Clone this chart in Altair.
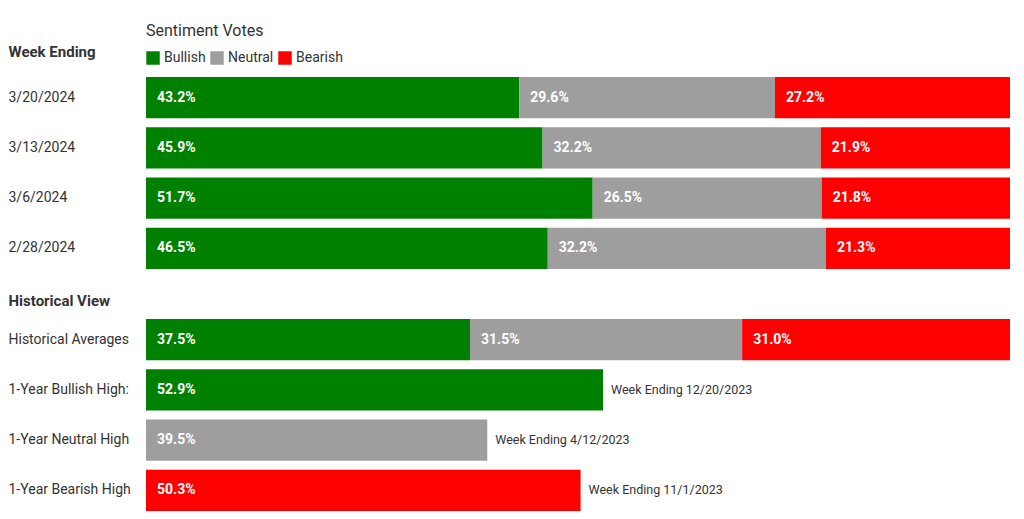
import altair as alt
import pandas as pd

categories = ["Bullish", "Neutral", "Bearish"]
colors = ["#008000", "#9E9E9E", "#FF0000"]

week_rows = ["3/20/2024", "3/13/2024", "3/6/2024", "2/28/2024"]
week_bullish = [43.2, 45.9, 51.7, 46.5]
week_neutral = [29.6, 32.2, 26.5, 32.2]
week_bearish = [27.2, 21.9, 21.8, 21.3]

hist_rows = ["Historical Averages", "1-Year Bullish High:", "1-Year Neutral High", "1-Year Bearish High"]
hist_bullish = [37.5, 52.9, None, None]
hist_neutral = [31.5, None, 39.5, None]
hist_bearish = [31.0, None, None, 50.3]
hist_notes = ["", "Week Ending 12/20/2023", "Week Ending 4/12/2023", "Week Ending 11/1/2023"]

FONT = "Roboto"
TXT = "#333333"


def long_table(rows, b, n, r):
    recs = []
    for i, row in enumerate(rows):
        for k, (cat, vals) in enumerate(zip(categories, [b, n, r])):
            v = vals[i]
            if v is None:
                continue
            recs.append({"row": row, "category": cat, "order": k, "value": v,
                         "label": f"{v:.1f}%"})
    return pd.DataFrame(recs)


week_df = long_table(week_rows, week_bullish, week_neutral, week_bearish)
hist_df = long_table(hist_rows, hist_bullish, hist_neutral, hist_bearish)
notes_df = pd.DataFrame({
    "row": hist_rows,
    "note": hist_notes,
    "total": [sum(v for v in (a, b, c) if v is not None)
              for a, b, c in zip(hist_bullish, hist_neutral, hist_bearish)],
})
notes_df = notes_df[notes_df["note"] != ""]

xscale = alt.Scale(domain=[0, 100], nice=False)


def make_panel(df, rows, title, title_y, legend):
    yenc = alt.Y(
        "row:N", sort=rows,
        scale=alt.Scale(paddingInner=0.18, paddingOuter=0),
        axis=alt.Axis(
            title=title, titleAngle=0, titleAlign="left", titleBaseline="middle",
            titleX=-138, titleY=title_y, titleFont=FONT, titleFontSize=15,
            titleFontWeight="bold", titleColor=TXT,
            labelAlign="left", labelPadding=138, labelFont=FONT, labelFontSize=14,
            labelColor=TXT, ticks=False, domain=False, grid=False,
        ),
    )
    bars = alt.Chart(df).mark_bar().encode(
        x=alt.X("value:Q", stack="zero", scale=xscale, axis=None),
        y=yenc,
        color=alt.Color("category:N", scale=alt.Scale(domain=categories, range=colors),
                        legend=legend),
        order=alt.Order("order:Q"),
    )
    labels = alt.Chart(df).transform_stack(
        stack="value", groupby=["row"], sort=[alt.SortField("order")], as_=["x0", "x1"]
    ).mark_text(align="left", baseline="middle", dx=11, color="white",
                font=FONT, fontSize=14, fontWeight="bold").encode(
        x=alt.X("x0:Q", scale=xscale, axis=None),
        y=alt.Y("row:N", sort=rows),
        text="label:N",
    )
    return bars + labels


legend = alt.Legend(
    title="Sentiment Votes", orient="none", legendX=0, legendY=-54,
    direction="horizontal", symbolType="square", symbolSize=182,
    symbolStrokeWidth=0, symbolOpacity=1, titleFont=FONT, titleFontSize=16,
    titleFontWeight="normal", titleColor=TXT, labelFont=FONT, labelFontSize=14,
    labelColor=TXT, columnPadding=4, labelOffset=4, titlePadding=12, padding=0,
)

top = make_panel(week_df, week_rows, "Week Ending", -26, legend).properties(
    width=864, height=192)

notes = alt.Chart(notes_df).mark_text(
    align="left", baseline="middle", dx=8, color=TXT, font=FONT, fontSize=12.5
).encode(
    x=alt.X("total:Q", scale=xscale, axis=None),
    y=alt.Y("row:N", sort=hist_rows),
    text="note:N",
)

bottom = (make_panel(hist_df, hist_rows, "Historical View", -19, None) + notes).properties(
    width=864, height=192)

chart = alt.vconcat(top, bottom, spacing=50, bounds="flush").resolve_scale(
    color="independent"
).properties(
    padding={"top": 15, "left": 0, "right": 4, "bottom": 0}
).configure_view(stroke=None)

chart.save("out.html", embed_options={"renderer": "svg", "actions": False})
